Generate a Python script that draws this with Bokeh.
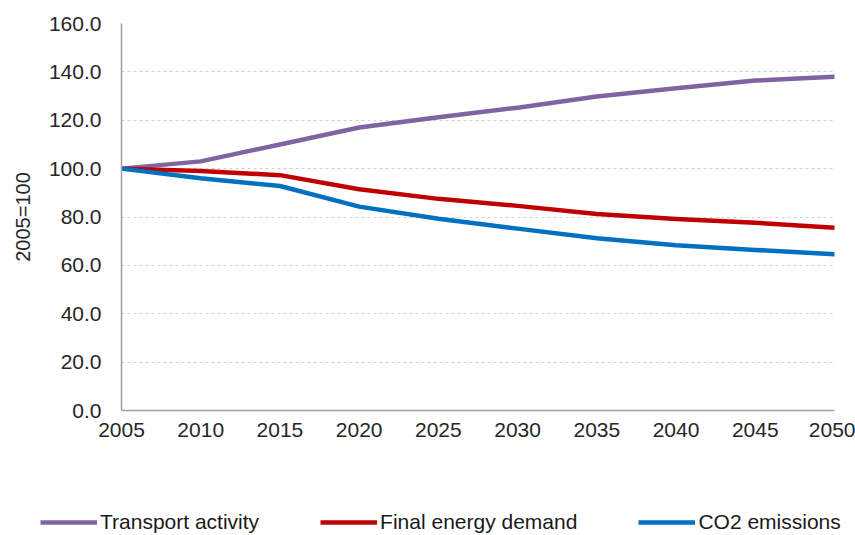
from bokeh.plotting import figure
from bokeh.models import FixedTicker, PrintfTickFormatter, Legend, LegendItem, Range1d
from bokeh.embed import file_html
from bokeh.resources import INLINE

years = [2005, 2010, 2015, 2020, 2025, 2030, 2035, 2040, 2045, 2050]
transport_activity = [100.0, 103.0, 110.0, 117.0, 121.2, 125.2, 129.8, 133.2, 136.4, 138.0]
final_energy_demand = [100.0, 99.0, 97.3, 91.5, 87.5, 84.6, 81.2, 79.2, 77.6, 75.6]
co2_emissions = [100.0, 96.0, 92.8, 84.3, 79.3, 75.2, 71.2, 68.3, 66.4, 64.6]

y_ticks = [0, 20, 40, 60, 80, 100, 120, 140, 160]
x_ticks = years

series_names = ["Transport activity", "Final energy demand", "CO2 emissions"]
series_colors = ["#8064A2", "#C00000", "#0070C0"]
series_values = [transport_activity, final_energy_demand, co2_emissions]

FONT = "Liberation Sans"
LW = 4.5

p = figure(width=855, height=500, output_backend="svg", toolbar_location=None,
           x_range=Range1d(2005, 2050), y_range=Range1d(0, 160),
           min_border_left=121, min_border_right=21, min_border_top=23, min_border_bottom=90)
p.outline_line_color = None
p.background_fill_color = "white"
p.border_fill_color = "white"

for vals, col in zip(series_values, series_colors):
    p.line(years, vals, line_color=col, line_width=LW, line_cap="round", line_join="round")

# axes
p.yaxis.ticker = FixedTicker(ticks=y_ticks)
p.xaxis.ticker = FixedTicker(ticks=x_ticks)
p.yaxis.formatter = PrintfTickFormatter(format="%.1f")
for ax in [p.xaxis[0], p.yaxis[0]]:
    ax.axis_line_color = "#A0A0A0"
    ax.axis_line_width = 1.5
    ax.major_tick_line_color = None
    ax.minor_tick_line_color = None
    ax.major_tick_out = 0
    ax.major_tick_in = 0
    ax.major_label_text_font = FONT
    ax.major_label_text_font_size = "21px"
    ax.major_label_text_color = "#262626"
p.yaxis.major_label_standoff = 20
p.xaxis.major_label_standoff = 12
p.yaxis.axis_label = "2005=100"
p.yaxis.axis_label_text_font = FONT
p.yaxis.axis_label_text_font_size = "20px"
p.yaxis.axis_label_text_font_style = "normal"
p.yaxis.axis_label_text_color = "#262626"
p.yaxis.axis_label_standoff = 12

p.xgrid.grid_line_color = None
p.ygrid.grid_line_color = "#D0D0D0"
p.ygrid.grid_line_dash = "3 3"
p.ygrid.grid_line_width = 1

# legend strip below the chart (separate root, its ranges keep the lines off-frame)
pl = figure(width=855, height=35, output_backend="svg", toolbar_location=None,
            x_range=Range1d(0, 1), y_range=Range1d(0, 1),
            x_axis_type=None, y_axis_type=None,
            min_border_left=0, min_border_right=0, min_border_top=0, min_border_bottom=0)
pl.outline_line_color = None
pl.xgrid.grid_line_color = None
pl.ygrid.grid_line_color = None
pl.border_fill_color = "white"
leg_renderers = [pl.line(years, vals, line_color=c, line_width=LW)
                 for vals, c in zip(series_values, series_colors)]
legend = Legend(items=[LegendItem(label=n, renderers=[r]) for n, r in zip(series_names, leg_renderers)],
                orientation="horizontal", location=(40, 1),
                padding=0, margin=0, spacing=61, glyph_width=57, glyph_height=20,
                label_standoff=3, border_line_color=None, background_fill_alpha=0,
                label_text_font=FONT, label_text_font_size="21px", label_text_color="#1a1a1a")
pl.add_layout(legend)

open("out.html", "w").write(file_html([p, pl], INLINE))
